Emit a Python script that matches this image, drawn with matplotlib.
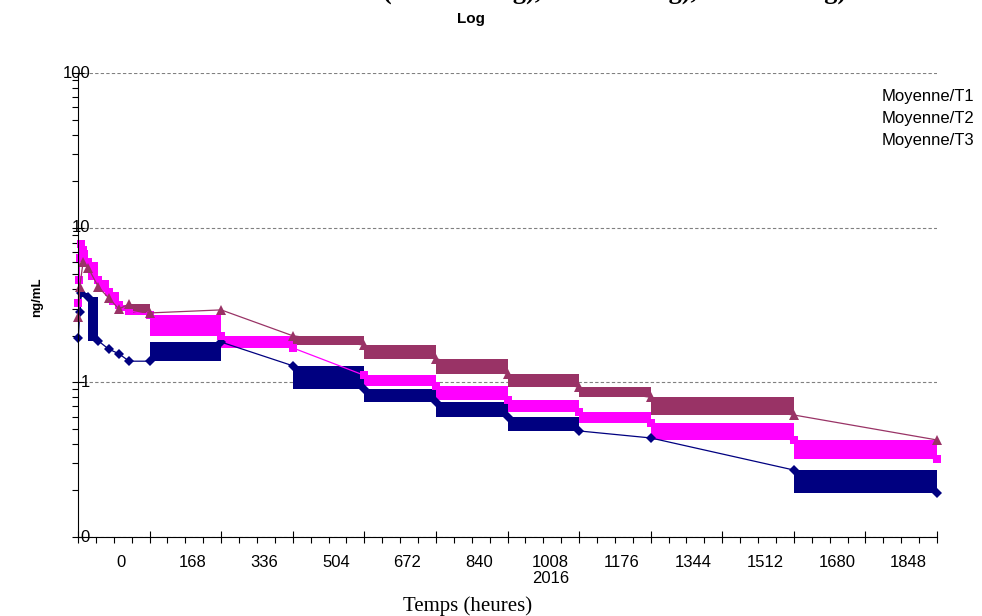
import numpy as np
import matplotlib
matplotlib.use("Agg")
import matplotlib.pyplot as plt
import matplotlib.transforms as mtransforms
from matplotlib.ticker import LogLocator, NullFormatter

plt.rcParams['font.family'] = ['Liberation Sans', 'DejaVu Sans']

# Temps (heures) et concentrations moyennes (ng/mL)
t1 = [1, 4, 8, 24, 48, 72, 96, 120, 168, 336, 504, 672, 840, 1008, 1176, 1344, 1680, 2016]
c1 = [1.94, 2.85, 3.78, 3.56, 1.85, 1.64, 1.53, 1.37, 1.37, 1.82, 1.28, 0.905, 0.746,
      0.597, 0.485, 0.437, 0.271, 0.193]
band1 = [0, 1, 1, 1, 0, 0, 0, 0, 1, 0, 1, 1, 1, 1, 0, 0, 1]

t2 = [1, 2, 4, 8, 12, 24, 48, 72, 96, 120, 168, 336, 504, 672, 840, 1008, 1176, 1344, 1680, 2016]
c2 = [3.26, 4.6, 6.4, 7.8, 7.2, 6.0, 4.59, 3.84, 3.16, 2.9, 2.72, 1.99, 1.67, 1.11, 0.946,
      0.769, 0.643, 0.546, 0.424, 0.319]
band2 = [0, 1, 1, 1, 1, 1, 1, 1, 1, 1, 1, 1, 0, 1, 1, 1, 1, 1, 1]

t3 = [1, 4, 12, 24, 48, 72, 96, 120, 168, 336, 504, 672, 840, 1008, 1176, 1344, 1680, 2016]
c3 = [2.64, 4.13, 6.0, 5.49, 4.13, 3.51, 2.98, 3.21, 2.81, 2.94, 2.0, 1.74, 1.42, 1.13,
      0.93, 0.80, 0.615, 0.424]
band3 = [0, 0, 0, 0, 0, 0, 0, 1, 0, 0, 1, 1, 1, 1, 1, 1, 0]

names = ["Moyenne/T1", "Moyenne/T2", "Moyenne/T3"]
xlabels = ["0", "168", "336", "504", "672", "840", "1008\n2016", "1176", "1344", "1512", "1680", "1848"]
ylabels = ["0", "1", "10", "100"]

fig = plt.figure(figsize=(9.82, 6.16), dpi=100)
ax = fig.add_axes([78 / 982, 1 - 537 / 616, 859 / 982, 464 / 616])

series = [(t1, c1, band1, "#000080", "D", 5),
          (t2, c2, band2, "#FF00FF", "s", 6),
          (t3, c3, band3, "#993366", "^", 7)]

for t, c, band, col, mk, ms in series:
    # bandes pleines entre deux points consecutifs
    for i, on in enumerate(band):
        if on:
            ax.fill_between([t[i], t[i + 1]], min(c[i], c[i + 1]), max(c[i], c[i + 1]),
                            color=col, lw=0)
    ax.plot(t, c, color=col, lw=0.9, marker=mk, ms=ms, mew=0, clip_on=False)

ax.set_yscale('log')
ax.set_ylim(0.1, 100)
ax.set_xlim(0, 2016)

ax.set_xticks(np.arange(0, 2017, 168))
ax.set_xticks(np.arange(0, 2017, 42), minor=True)
ax.set_xticklabels([])
ax.set_yticks([0.1, 1, 10, 100])
ax.yaxis.set_minor_locator(LogLocator(base=10, subs=np.arange(2, 10)))
ax.yaxis.set_minor_formatter(NullFormatter())
ax.set_yticklabels([])

ax.tick_params(which='major', direction='inout', length=9, width=0.8)
ax.tick_params(which='minor', direction='out', length=4, width=0.8)

for s in ['top', 'right']:
    ax.spines[s].set_visible(False)
for s in ['left', 'bottom']:
    ax.spines[s].set_linewidth(0.8)

ax.yaxis.grid(True, which='major', color='#808080', linestyle=(0, (3, 2)), lw=0.8)
ax.set_axisbelow(True)

# etiquettes des axes
ty = mtransforms.blended_transform_factory(ax.transAxes, ax.transData)
for v, lab in zip([0.1, 1, 10, 100], ylabels):
    ax.text(12 / 859, v, lab, transform=ty, ha='right', va='center', fontsize=12)

tx = mtransforms.blended_transform_factory(ax.transData, ax.transAxes)
for k, lab in enumerate(xlabels):
    ax.text(101 + 168 * k, -18 / 464, lab, transform=tx, ha='center', va='top',
            fontsize=12, linespacing=1.1)

fig.text(468 / 982, 1 - 606 / 616, "Temps (heures)", ha='center', va='center',
         fontsize=15, family='Liberation Serif')
fig.text(37 / 982, 1 - 297 / 616, "ng/mL", rotation=90, ha='center', va='center',
         fontsize=9.5, fontweight='bold')
fig.text(471 / 982, 1 - 19 / 616, "Log", ha='center', va='center',
         fontsize=11, fontweight='bold')
# titre coupe en haut de l'image, comme dans l'original
fig.text(383 / 982, 1 + 0.5 / 616, "(T1 : 100 mg), T2 : 200 mg), T3 : 400 mg)", ha='left',
         va='baseline', fontsize=19, fontweight='bold', family='Liberation Serif')

for j, nm in enumerate(names):
    fig.text(882 / 982, 1 - (96 + 22.5 * j) / 616, nm, ha='left', va='center', fontsize=12)

fig.savefig('out.png', dpi=100)
